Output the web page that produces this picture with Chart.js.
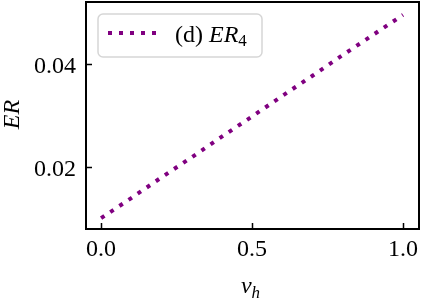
<!DOCTYPE html>
<html>
<head>
<meta charset="utf-8">
<script src="https://cdn.jsdelivr.net/npm/chart.js@4.4.0/dist/chart.umd.min.js"></script>
<style>
  html, body { margin: 0; padding: 0; background: #fff; }
  #wrap { width: 421px; height: 302px; }
</style>
</head>
<body>
<div id="wrap"><canvas id="chart"></canvas></div>
<script>
const vh = [0.0, 0.1, 0.2, 0.3, 0.4, 0.5, 0.6, 0.7, 0.8, 0.9, 1.0];
const er4 = [0.0101, 0.0140, 0.0180, 0.0219, 0.0259, 0.0298, 0.0338, 0.0377, 0.0417, 0.0456, 0.0495];
const xTicks = [0.0, 0.5, 1.0];
const yTicks = [0.02, 0.04];

const serif = "'Liberation Serif', 'Times New Roman', serif";
const purple = "#800080";

const decorPlugin = {
    id: "decor",
    afterDraw(chart) {
        const ctx = chart.ctx;
        const area = chart.chartArea;
        const xs = chart.scales.x;
        const ys = chart.scales.y;
        ctx.save();

        // frame
        ctx.strokeStyle = "#000";
        ctx.lineWidth = 2;
        ctx.strokeRect(area.left, area.top, area.right - area.left, area.bottom - area.top);

        // inward ticks + labels
        ctx.lineWidth = 1.5;
        ctx.beginPath();
        xTicks.forEach(v => {
            const px = Math.round(xs.getPixelForValue(v)) + 0.5;
            ctx.moveTo(px, area.bottom);
            ctx.lineTo(px, area.bottom - 6);
        });
        yTicks.forEach(v => {
            const py = Math.round(ys.getPixelForValue(v)) + 0.5;
            ctx.moveTo(area.left, py);
            ctx.lineTo(area.left + 6, py);
        });
        ctx.stroke();

        ctx.fillStyle = "#000";
        ctx.font = "24px " + serif;
        ctx.textBaseline = "alphabetic";
        ctx.textAlign = "center";
        xTicks.forEach(v => {
            ctx.fillText(v.toFixed(1), xs.getPixelForValue(v), area.bottom + 27);
        });
        ctx.textAlign = "right";
        yTicks.forEach(v => {
            ctx.fillText(v.toFixed(2), area.left - 10, ys.getPixelForValue(v) + 9);
        });

        // axis titles
        ctx.font = "italic 24px " + serif;
        ctx.textAlign = "center";
        ctx.save();
        ctx.translate(19, (area.top + area.bottom) / 2 - 1);
        ctx.rotate(-Math.PI / 2);
        ctx.fillText("ER", 0, 0);
        ctx.restore();

        const cx = (area.left + area.right) / 2 - 2;
        ctx.textAlign = "left";
        const wv = ctx.measureText("v").width;
        ctx.font = "italic 17px " + serif;
        const wh = ctx.measureText("h").width;
        const startX = cx - (wv + wh) / 2;
        ctx.font = "italic 24px " + serif;
        ctx.fillText("v", startX, 293);
        ctx.font = "italic 17px " + serif;
        ctx.fillText("h", startX + wv, 298);

        // legend
        const lx = 98, ly = 14, lw = 164, lh = 43, r = 5;
        ctx.beginPath();
        ctx.moveTo(lx + r, ly);
        ctx.arcTo(lx + lw, ly, lx + lw, ly + lh, r);
        ctx.arcTo(lx + lw, ly + lh, lx, ly + lh, r);
        ctx.arcTo(lx, ly + lh, lx, ly, r);
        ctx.arcTo(lx, ly, lx + lw, ly, r);
        ctx.closePath();
        ctx.fillStyle = "rgba(255,255,255,0.8)";
        ctx.fill();
        ctx.strokeStyle = "#d6d6d6";
        ctx.lineWidth = 1.5;
        ctx.stroke();

        ctx.strokeStyle = purple;
        ctx.lineWidth = 4;
        ctx.setLineDash([4, 7]);
        ctx.beginPath();
        ctx.moveTo(108, 33);
        ctx.lineTo(158, 33);
        ctx.stroke();
        ctx.setLineDash([]);

        ctx.fillStyle = "#000";
        ctx.font = "24px " + serif;
        ctx.fillText("(d) ", 175, 42);
        const wd = ctx.measureText("(d) ").width;
        ctx.font = "italic 24px " + serif;
        ctx.fillText("ER", 175 + wd, 42);
        const we = ctx.measureText("ER").width;
        ctx.font = "17px " + serif;
        ctx.fillText("4", 175 + wd + we, 46);

        ctx.restore();
    }
};

new Chart(document.getElementById("chart"), {
    type: "line",
    data: {
        datasets: [{
            label: "(d) ER4",
            data: vh.map((v, i) => ({ x: v, y: er4[i] })),
            borderColor: purple,
            borderWidth: 4,
            borderDash: [4, 7],
            pointRadius: 0,
            fill: false,
            tension: 0
        }]
    },
    options: {
        responsive: true,
        maintainAspectRatio: false,
        animation: false,
        layout: { padding: { top: 2, right: 2, left: 0, bottom: 0 } },
        plugins: { legend: { display: false }, tooltip: { enabled: false } },
        scales: {
            x: {
                type: "linear",
                min: -0.05,
                max: 1.053,
                afterFit: s => { s.height = 73; },
                grid: { display: false, drawTicks: false },
                border: { display: false },
                ticks: { display: false }
            },
            y: {
                type: "linear",
                min: 0.008,
                max: 0.052,
                afterFit: s => { s.width = 86; },
                grid: { display: false, drawTicks: false },
                border: { display: false },
                ticks: { display: false }
            }
        }
    },
    plugins: [decorPlugin]
});
</script>
</body>
</html>
